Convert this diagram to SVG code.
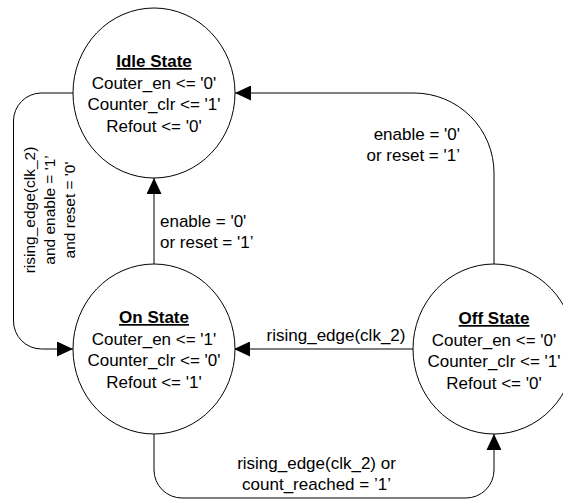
<svg xmlns="http://www.w3.org/2000/svg" width="563" height="499" viewBox="0 0 563 499">
<style>
  .st { fill: #ffffff; stroke: #000000; stroke-width: 1; }
  .cn { fill: none; stroke: #000000; stroke-width: 1; }
  text { font-family: "Liberation Sans", Arial, sans-serif; font-size: 17px; fill: #000000; }
  .c { text-anchor: middle; }
  .t { font-weight: bold; text-decoration: underline; }
  .v { font-size: 15.5px; }
</style>
<defs>
  <marker id="ah" markerUnits="userSpaceOnUse" markerWidth="16" markerHeight="15" refX="16" refY="7.5" orient="auto">
    <path d="M0,0 L16,7.5 L0,15 z" fill="#000000"/>
  </marker>
</defs>
<rect width="563" height="499" fill="#ffffff"/>
<g id="connectors">
  <path class="cn" d="M73,93 L41,93 A28,28 0 0 0 13.5,121 L13.5,321 A28,28 0 0 0 41.5,349 L73,349" marker-end="url(#ah)"/>
  <path class="cn" d="M154,264 L154,178" marker-end="url(#ah)"/>
  <path class="cn" d="M494,264 L494,173 A80,80 0 0 0 414,93 L235,93" marker-end="url(#ah)"/>
  <path class="cn" d="M413,349 L234,349" marker-end="url(#ah)"/>
  <path class="cn" d="M154,434 L154,470 A28,28 0 0 0 182,498 L466,498 A28,28 0 0 0 494,470 L494,434" marker-end="url(#ah)"/>
  <text transform="translate(34.5,210) rotate(-90)" class="c v">rising_edge(clk_2)</text>
  <text transform="translate(54.5,210) rotate(-90)" class="c v">and enable = '1’</text>
  <text transform="translate(74.5,210) rotate(-90)" class="c v">and reset = '0'</text>
  <text x="160" y="227">enable = '0'</text>
  <text x="160" y="247.5">or reset = '1’</text>
  <text x="460" y="140" text-anchor="end">enable = '0'</text>
  <text x="460" y="160.5" text-anchor="end">or reset = '1’</text>
  <text x="336" y="341" class="c">rising_edge(clk_2)</text>
  <text x="316.5" y="468.5" class="c">rising_edge(clk_2) or</text>
  <text x="316.5" y="490" class="c">count_reached = ’1’</text>
</g>
<g id="idle">
  <ellipse class="st" cx="154" cy="93" rx="81" ry="85"/>
  <text x="154" y="67" class="c t">Idle State</text>
  <text x="154" y="88.5" class="c">Couter_en &lt;= '0'</text>
  <text x="154" y="110" class="c">Counter_clr &lt;= '1'</text>
  <text x="154" y="131.5" class="c">Refout &lt;= '0'</text>
</g>
<g id="on">
  <ellipse class="st" cx="154" cy="349" rx="81" ry="85"/>
  <text x="154" y="323" class="c t">On State</text>
  <text x="154" y="344.5" class="c">Couter_en &lt;= '1'</text>
  <text x="154" y="366" class="c">Counter_clr &lt;= '0'</text>
  <text x="154" y="387.5" class="c">Refout &lt;= '1'</text>
</g>
<g id="off">
  <ellipse class="st" cx="494" cy="349" rx="81" ry="85"/>
  <text x="494" y="324" class="c t">Off State</text>
  <text x="494" y="345.5" class="c">Couter_en &lt;= '0'</text>
  <text x="494" y="367" class="c">Counter_clr &lt;= '1'</text>
  <text x="494" y="388.5" class="c">Refout &lt;= '0'</text>
</g>
</svg>
